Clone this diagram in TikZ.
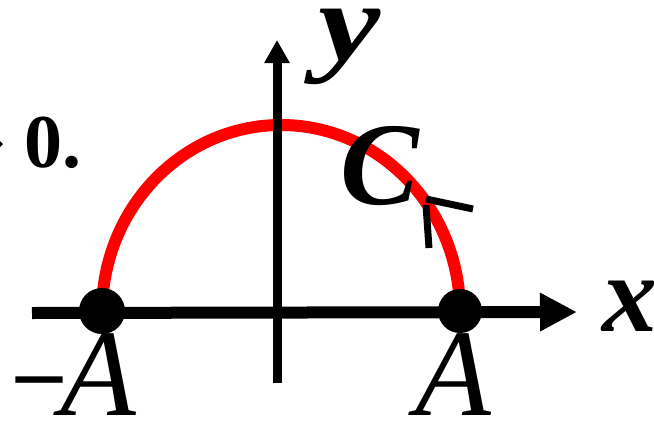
\documentclass[tikz,border=0pt]{standalone}
\usepackage{fontspec}
\setmainfont{Liberation Serif}
\usetikzlibrary{arrows.meta}
\tikzset{
  axisline/.style={line width=#1, draw=black},
  dot/.style={circle, fill=black, inner sep=0pt, minimum size=#1},
  lbl/.style={inner sep=0pt, anchor=base},
  tick/.style={line width=7pt, draw=black},
}
\begin{document}
\begin{tikzpicture}[x=1pt,y=-1pt]
\useasboundingbox (0,0) rectangle (654,421);
% red upper half of ellipse
\coordinate (L) at (102,312);
\draw[red, line width=12pt] (L) arc[start angle=180, end angle=0, x radius=179pt, y radius=187pt] coordinate (R);
% axes
\coordinate (xs) at (32,313);
\coordinate (xe) at (577,312);
\coordinate (ys) at (277,383);
\coordinate (ye) at (277,40);
\draw[axisline=12pt, -{Triangle[length=37pt,width=36pt]}] (xs) -- (xe);
\draw[axisline=9pt, -{Triangle[length=23pt,width=24pt]}] (ys) -- (ye);
% end points
\node[dot=46pt] (pl) at (102,311) {};
\node[dot=44pt] (pr) at (460,311) {};
% orientation mark
\coordinate (t1) at (426,199);
\coordinate (t2) at (473,209);
\coordinate (t3) at (426,205);
\coordinate (t4) at (429,248);
\draw[tick] (t1) -- (t2);
\draw[tick] (t3) -- (t4);
% labels
\node[lbl] (C) at (380,204) {\fontsize{118}{118}\selectfont\bfseries\itshape C};
\node[lbl] (ylab) at (350,60) {\scalebox{1.25}[1]{\fontsize{112}{112}\selectfont\bfseries\itshape y}};
\node[lbl] (xlab) at (630,331) {\fontsize{110}{110}\selectfont\bfseries\itshape x};
\node[lbl] (Ar) at (453,415) {\fontsize{124}{124}\selectfont\itshape A};
\node[lbl, anchor=base west] (Al) at (16,415) {\fontsize{124}{124}\selectfont\raisebox{14pt}{\fontsize{92}{92}\selectfont\bfseries –}\kern-2pt\itshape A};
\node[lbl, anchor=base west] (zero) at (24,167) {\fontsize{76}{76}\selectfont\bfseries 0.};
% clipped fragment at the left edge
\fill (0,141) -- (3,144) -- (0,147) -- cycle;
\end{tikzpicture}
\end{document}
